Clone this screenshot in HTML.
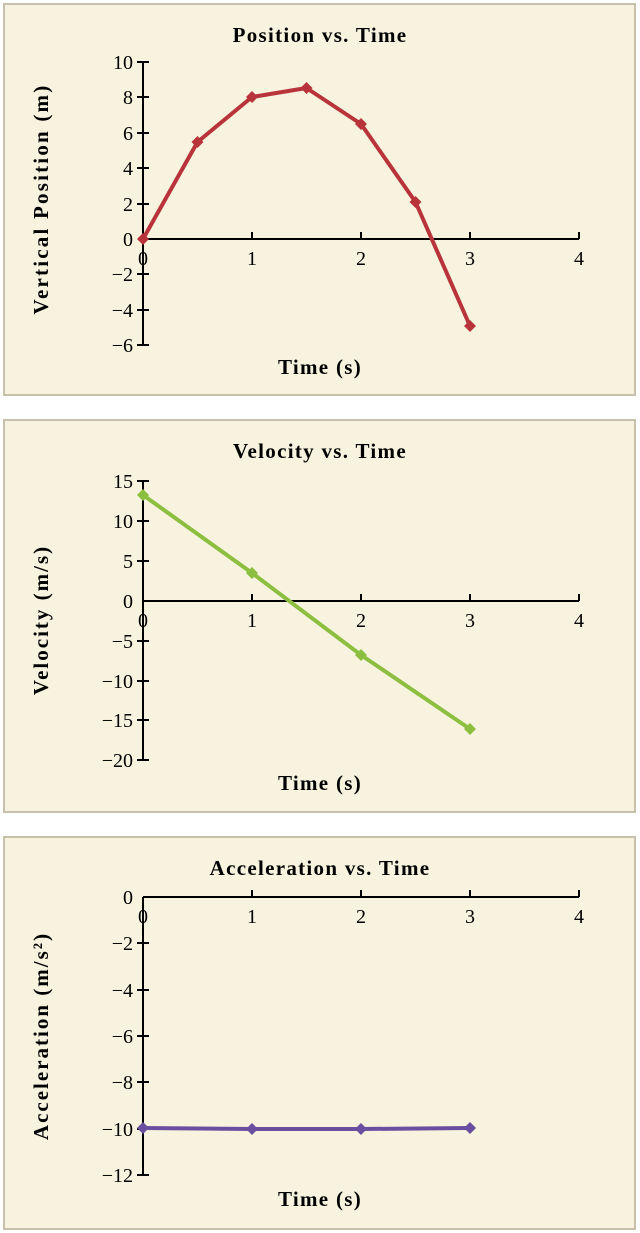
<!DOCTYPE html>
<html><head><style>
body{margin:0;background:#fff;}
svg{display:block;font-family:"Liberation Serif",serif;}
.b{font-weight:bold;font-size:21px;letter-spacing:1.3px;}
</style></head><body>
<svg width="640" height="1233" viewBox="0 0 640 1233">
<defs>
<g id="dia"><path d="M0,-6 L6,0 L0,6 L-6,0Z"/></g>
</defs>
<g stroke="#c8c0aa" stroke-width="2" fill="#f7f3df">
<rect x="4" y="4" width="631" height="391"/>
<rect x="4" y="420" width="631" height="392"/>
<rect x="4" y="837" width="631" height="392"/>
</g>

<!-- Chart 1 -->
<g font-size="20">
<text x="320" y="42" text-anchor="middle" class="b">Position vs. Time</text>
<text x="320" y="374" text-anchor="middle" class="b">Time (s)</text>
<text transform="translate(48,199) rotate(-90)" text-anchor="middle" class="b" style="letter-spacing:2.2px">Vertical Position (m)</text>
<g stroke="#000" stroke-width="2">
<line x1="143" y1="62" x2="143" y2="345"/>
<line x1="143" y1="239" x2="579" y2="239"/>
<line x1="137" y1="62" x2="149" y2="62"/><line x1="137" y1="97" x2="149" y2="97"/><line x1="137" y1="133" x2="149" y2="133"/><line x1="137" y1="168" x2="149" y2="168"/><line x1="137" y1="204" x2="149" y2="204"/><line x1="137" y1="274" x2="149" y2="274"/><line x1="137" y1="310" x2="149" y2="310"/><line x1="137" y1="345" x2="149" y2="345"/>
<line x1="252" y1="232" x2="252" y2="239"/><line x1="361" y1="232" x2="361" y2="239"/><line x1="470" y1="232" x2="470" y2="239"/><line x1="579" y1="232" x2="579" y2="239"/>
</g>
<g text-anchor="end">
<text x="133" y="69">10</text><text x="133" y="104">8</text><text x="133" y="140">6</text><text x="133" y="175">4</text><text x="133" y="211">2</text><text x="133" y="246">0</text><text x="133" y="281">−2</text><text x="133" y="317">−4</text><text x="133" y="352">−6</text>
</g>
<g text-anchor="middle">
<text x="143" y="265">0</text><text x="252" y="265">1</text><text x="361" y="265">2</text><text x="470" y="265">3</text><text x="579" y="265">4</text>
</g>
<polyline fill="none" stroke="#b8343a" stroke-width="4" stroke-linejoin="round" points="143,239 197.5,142 252,97 306.5,88 361,124 415.5,202 470,326"/>
<g fill="#b8343a">
<use href="#dia" x="143" y="239"/><use href="#dia" x="197.5" y="142"/><use href="#dia" x="252" y="97"/><use href="#dia" x="306.5" y="88"/><use href="#dia" x="361" y="124"/><use href="#dia" x="415.5" y="202"/><use href="#dia" x="470" y="326"/>
</g>
</g>

<!-- Chart 2 -->
<g font-size="20">
<text x="320" y="458" text-anchor="middle" class="b">Velocity vs. Time</text>
<text x="320" y="790" text-anchor="middle" class="b">Time (s)</text>
<text transform="translate(48,620) rotate(-90)" text-anchor="middle" class="b" style="letter-spacing:2px">Velocity (m/s)</text>
<g stroke="#000" stroke-width="2">
<line x1="143" y1="481" x2="143" y2="760"/>
<line x1="143" y1="601" x2="579" y2="601"/>
<line x1="137" y1="481" x2="149" y2="481"/><line x1="137" y1="521" x2="149" y2="521"/><line x1="137" y1="561" x2="149" y2="561"/><line x1="137" y1="641" x2="149" y2="641"/><line x1="137" y1="681" x2="149" y2="681"/><line x1="137" y1="720" x2="149" y2="720"/><line x1="137" y1="760" x2="149" y2="760"/>
<line x1="252" y1="594" x2="252" y2="601"/><line x1="361" y1="594" x2="361" y2="601"/><line x1="470" y1="594" x2="470" y2="601"/><line x1="579" y1="594" x2="579" y2="601"/>
</g>
<g text-anchor="end">
<text x="133" y="488">15</text><text x="133" y="528">10</text><text x="133" y="568">5</text><text x="133" y="608">0</text><text x="133" y="648">−5</text><text x="133" y="688">−10</text><text x="133" y="727">−15</text><text x="133" y="767">−20</text>
</g>
<g text-anchor="middle">
<text x="143" y="627">0</text><text x="252" y="627">1</text><text x="361" y="627">2</text><text x="470" y="627">3</text><text x="579" y="627">4</text>
</g>
<polyline fill="none" stroke="#8cbf3f" stroke-width="4" points="143,495 252,573 361,655 470,729"/>
<g fill="#8cbf3f">
<use href="#dia" x="143" y="495"/><use href="#dia" x="252" y="573"/><use href="#dia" x="361" y="655"/><use href="#dia" x="470" y="729"/>
</g>
</g>

<!-- Chart 3 -->
<g font-size="20">
<text x="320" y="875" text-anchor="middle" class="b">Acceleration vs. Time</text>
<text x="320" y="1206" text-anchor="middle" class="b">Time (s)</text>
<text transform="translate(48,1036) rotate(-90)" text-anchor="middle" class="b" style="letter-spacing:2px">Acceleration (m/s²)</text>
<g stroke="#000" stroke-width="2">
<line x1="143" y1="897" x2="143" y2="1175"/>
<line x1="143" y1="897" x2="579" y2="897"/>
<line x1="137" y1="943" x2="149" y2="943"/><line x1="137" y1="990" x2="149" y2="990"/><line x1="137" y1="1036" x2="149" y2="1036"/><line x1="137" y1="1082" x2="149" y2="1082"/><line x1="137" y1="1129" x2="149" y2="1129"/><line x1="137" y1="1175" x2="149" y2="1175"/>
<line x1="252" y1="890" x2="252" y2="897"/><line x1="361" y1="890" x2="361" y2="897"/><line x1="470" y1="890" x2="470" y2="897"/><line x1="579" y1="890" x2="579" y2="897"/>
</g>
<g text-anchor="end">
<text x="133" y="904">0</text><text x="133" y="950">−2</text><text x="133" y="997">−4</text><text x="133" y="1043">−6</text><text x="133" y="1089">−8</text><text x="133" y="1136">−10</text><text x="133" y="1182">−12</text>
</g>
<g text-anchor="middle">
<text x="143" y="923">0</text><text x="252" y="923">1</text><text x="361" y="923">2</text><text x="470" y="923">3</text><text x="579" y="923">4</text>
</g>
<polyline fill="none" stroke="#6a4fa0" stroke-width="4" points="143,1128 252,1129 361,1129 470,1128"/>
<g fill="#6a4fa0">
<use href="#dia" x="143" y="1128"/><use href="#dia" x="252" y="1129"/><use href="#dia" x="361" y="1129"/><use href="#dia" x="470" y="1128"/>
</g>
</g>
</svg>
</body></html>
